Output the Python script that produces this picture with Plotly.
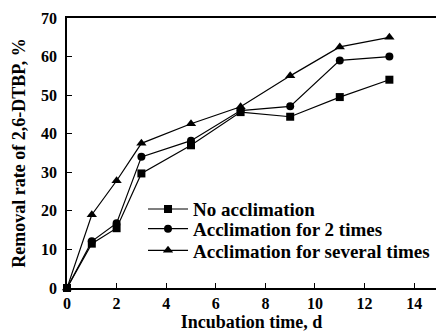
import plotly.graph_objects as go

days = [0, 1, 2, 3, 5, 7, 9, 11, 13]
no_accl = [0, 11.5, 15.5, 29.7, 37.0, 45.6, 44.4, 49.5, 54.0]
accl_2 = [0, 12.1, 16.8, 34.0, 38.2, 46.0, 47.1, 59.0, 60.0]
accl_several = [0, 19.0, 27.8, 37.5, 42.6, 47.0, 55.0, 62.5, 65.0]

x_ticks = [0, 2, 4, 6, 8, 10, 12, 14]
y_ticks = [0, 10, 20, 30, 40, 50, 60, 70]

series = [
    ("No acclimation", no_accl, "square", 8, "legend"),
    ("Acclimation for 2 times", accl_2, "circle", 8, "legend2"),
    ("Acclimation for several times", accl_several, "triangle-up", 9, "legend3"),
]

serif = "Liberation Serif, Times New Roman, serif"
font = dict(family=serif, size=16, color="black")

fig = go.Figure()
for name, vals, sym, sz, lg in series:
    fig.add_trace(go.Scatter(
        x=days, y=vals, name="<b>%s</b>" % name, mode="lines+markers",
        line=dict(color="black", width=1.2),
        marker=dict(symbol=sym, size=sz, color="black"),
        cliponaxis=False, legend=lg,
    ))

leg_common = dict(x=0.206, xanchor="left", yanchor="middle",
                  bgcolor="rgba(0,0,0,0)", font=dict(family=serif, size=19, color="black"),
                  itemwidth=40, borderwidth=0)

fig.update_layout(
    width=436, height=332,
    margin=dict(l=67, r=0, t=18, b=44),
    paper_bgcolor="white", plot_bgcolor="white",
    font=font,
    showlegend=True,
    legend=dict(y=0.292, **leg_common),
    legend2=dict(y=0.219, **leg_common),
    legend3=dict(y=0.139, **leg_common),
    xaxis=dict(range=[0, 14.88], tickvals=x_ticks,
               ticktext=["<b>%d</b>" % v for v in x_ticks],
               showline=True, linecolor="black", linewidth=1.5, mirror=True,
               ticks="inside", ticklen=5, tickcolor="black",
               showgrid=False, zeroline=False,
               title=dict(text="<b>Incubation time, d</b>", standoff=4,
                          font=dict(family=serif, size=18))),
    yaxis=dict(range=[0, 70], tickvals=y_ticks,
               ticktext=["<b>%d</b>" % v for v in y_ticks],
               showline=True, linecolor="black", linewidth=1.5,
               ticks="inside", ticklen=5, tickcolor="black",
               ticklabelstandoff=5,
               showgrid=False, zeroline=False,
               title=dict(text="<b>Removal rate of 2,6-DTBP, %</b>", standoff=11,
                          font=dict(family=serif, size=18))),
)
fig.write_html("out.html")
